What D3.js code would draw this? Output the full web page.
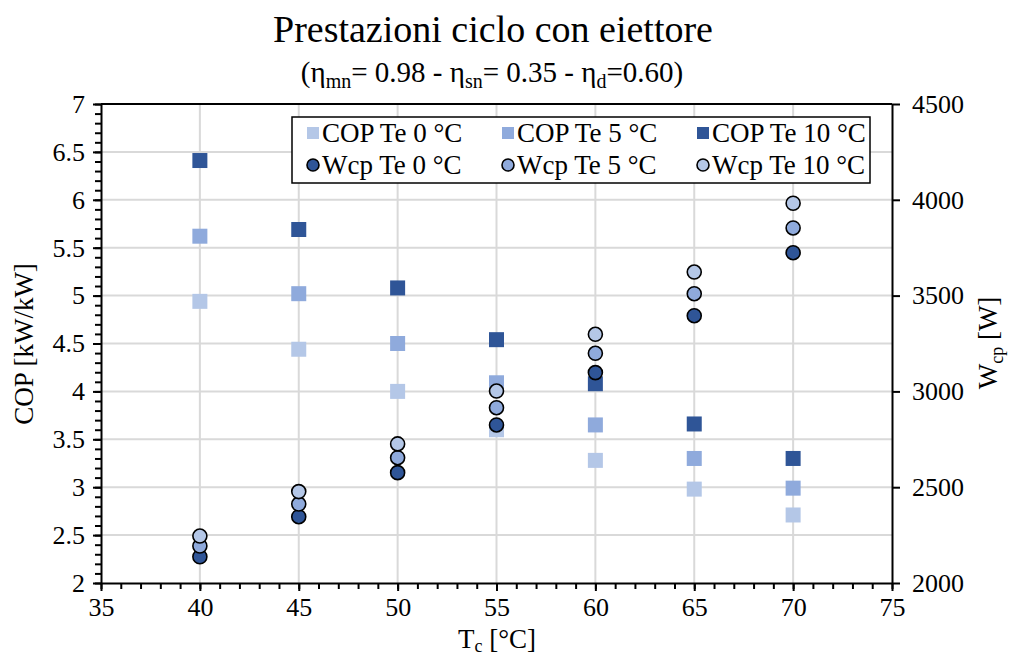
<!DOCTYPE html>
<html>
<head>
<meta charset="utf-8">
<script src="https://cdn.jsdelivr.net/npm/d3@7"></script>
<style>
  html, body { margin: 0; padding: 0; background: #fff; }
  svg { display: block; }
  text { font-family: "Liberation Serif", "Times New Roman", serif; fill: #000; }
</style>
</head>
<body>
<svg id="chart" width="1013" height="657"></svg>
<script>
// Condenser temperature Tc [°C]
const tc = [40, 45, 50, 55, 60, 65, 70];

// COP [kW/kW] for each evaporator temperature
const copTe0  = [4.94, 4.44, 4.00, 3.60, 3.28, 2.98, 2.71];
const copTe5  = [5.62, 5.02, 4.50, 4.09, 3.65, 3.30, 2.99];
const copTe10 = [6.41, 5.69, 5.08, 4.54, 4.08, 3.66, 3.30];

// Compressor power Wcp [W] for each evaporator temperature
const wcpTe0  = [2137, 2346, 2576, 2825, 3098, 3395, 3724];
const wcpTe5  = [2193, 2412, 2654, 2915, 3199, 3510, 3853];
const wcpTe10 = [2245, 2477, 2726, 3002, 3298, 3623, 3982];

// Tick labels
const xTicks = [35, 40, 45, 50, 55, 60, 65, 70, 75];
const yLeftTicks = [2, 2.5, 3, 3.5, 4, 4.5, 5, 5.5, 6, 6.5, 7];
const yRightTicks = [2000, 2500, 3000, 3500, 4000, 4500];

const cLight = "#B4C7E7", cMid = "#8FAADC", cDark = "#2F5597";

const series = [
  { name: "COP Te 0 °C",  kind: "sq", color: cLight, vals: copTe0 },
  { name: "COP Te 5 °C",  kind: "sq", color: cMid,   vals: copTe5 },
  { name: "COP Te 10 °C", kind: "sq", color: cDark,  vals: copTe10 },
  { name: "Wcp Te 0 °C",  kind: "ci", color: cDark,  vals: wcpTe0 },
  { name: "Wcp Te 5 °C",  kind: "ci", color: cMid,   vals: wcpTe5 },
  { name: "Wcp Te 10 °C", kind: "ci", color: cLight, vals: wcpTe10 }
];

const L = 101, R = 892, T = 104, B = 583;
const x = d3.scaleLinear().domain([35, 75]).range([L, R]);
const yL = d3.scaleLinear().domain([2, 7]).range([B, T]);
const yR = d3.scaleLinear().domain([2000, 4500]).range([B, T]);

const svg = d3.select("#chart");
const FONT = "'Liberation Serif', 'Times New Roman', serif";

// Gridlines
const grid = svg.append("g").attr("stroke", "#D9D9D9").attr("stroke-width", 2);
grid.selectAll("line.h").data(yLeftTicks.filter(v => v > 2 && v < 7)).join("line")
  .attr("x1", L).attr("x2", R).attr("y1", d => yL(d)).attr("y2", d => yL(d));
grid.selectAll("line.v").data(xTicks.filter(v => v > 35 && v < 75)).join("line")
  .attr("y1", T).attr("y2", B).attr("x1", d => x(d)).attr("x2", d => x(d));

// Top border of the plot area
svg.append("line").attr("x1", L).attr("x2", R).attr("y1", T).attr("y2", T)
  .attr("stroke", "#000").attr("stroke-width", 2);

function styleAxis(g) {
  g.attr("font-family", FONT);
  g.select(".domain").attr("stroke", "#000").attr("stroke-width", 2);
  g.selectAll(".tick line").attr("stroke", "#000").attr("stroke-width", 2);
  g.selectAll(".tick text").style("font-family", FONT).style("font-size", "26px");
}

// Minor ticks
svg.append("g").attr("transform", `translate(0,${B})`)
  .call(d3.axisBottom(x).tickValues(d3.range(35, 76, 1)).tickSize(6).tickFormat("").tickSizeOuter(0))
  .call(g => { g.select(".domain").remove(); g.selectAll(".tick line").attr("stroke", "#000").attr("stroke-width", 2); });
svg.append("g").attr("transform", `translate(${L},0)`)
  .call(d3.axisLeft(yL).tickValues(d3.range(20, 71, 1).map(v => v / 10)).tickSize(6).tickFormat("").tickSizeOuter(0))
  .call(g => { g.select(".domain").remove(); g.selectAll(".tick line").attr("stroke", "#000").attr("stroke-width", 2); });

// Major axes
svg.append("g").attr("transform", `translate(0,${B})`)
  .call(d3.axisBottom(x).tickValues(xTicks).tickSize(8).tickPadding(7).tickSizeOuter(0).tickFormat(d3.format("d")))
  .call(styleAxis);
svg.append("g").attr("transform", `translate(${L},0)`)
  .call(d3.axisLeft(yL).tickValues(yLeftTicks).tickSize(8).tickPadding(8).tickSizeOuter(0).tickFormat(d => String(d)))
  .call(styleAxis);
svg.append("g").attr("transform", `translate(${R},0)`)
  .call(d3.axisRight(yR).tickValues(yRightTicks).tickSize(8).tickPadding(12).tickSizeOuter(0).tickFormat(d3.format("d")))
  .call(styleAxis);

// Markers
const sq = 15, rad = 7;
series.forEach(s => {
  const g = svg.append("g");
  if (s.kind === "sq") {
    g.selectAll("rect").data(tc.map((t, i) => [t, s.vals[i]])).join("rect")
      .attr("x", d => x(d[0]) - sq / 2).attr("y", d => yL(d[1]) - sq / 2)
      .attr("width", sq).attr("height", sq).attr("fill", s.color);
  } else {
    g.selectAll("circle").data(tc.map((t, i) => [t, s.vals[i]])).join("circle")
      .attr("cx", d => x(d[0])).attr("cy", d => yR(d[1])).attr("r", rad)
      .attr("fill", s.color).attr("stroke", "#000").attr("stroke-width", 1.6);
  }
});

// Legend
const lg = svg.append("g");
lg.append("rect").attr("x", 292).attr("y", 117).attr("width", 578).attr("height", 66)
  .attr("fill", "#fff").attr("stroke", "#000").attr("stroke-width", 1.5);
const colX = [313, 508, 703], rowY = [133, 165];
series.forEach((s, i) => {
  const cx = colX[i % 3], cy = rowY[Math.floor(i / 3)];
  if (s.kind === "sq") {
    lg.append("rect").attr("x", cx - 6).attr("y", cy - 6).attr("width", 12).attr("height", 12).attr("fill", s.color);
  } else {
    lg.append("circle").attr("cx", cx).attr("cy", cy).attr("r", 6)
      .attr("fill", s.color).attr("stroke", "#000").attr("stroke-width", 1.6);
  }
  lg.append("text").attr("x", cx + 9).attr("y", cy + 9).style("font-size", "27px").text(s.name);
});

// Title and subtitle
svg.append("text").attr("x", 493).attr("y", 42).attr("text-anchor", "middle")
  .style("font-size", "38px").text("Prestazioni ciclo con eiettore");
const sub = svg.append("text").attr("x", 492).attr("y", 82).attr("text-anchor", "middle").style("font-size", "29px");
[["(η", 0], ["mn", 1], ["= 0.98 - η", 0], ["sn", 1], ["= 0.35 - η", 0], ["d", 1], ["=0.60)", 0]].reduce((prev, [t, s]) => {
  sub.append("tspan").attr("dy", s === prev ? 0 : (s ? 6 : -6))
    .style("font-size", s ? "20px" : "29px").text(t);
  return s;
}, 0);

// Axis titles
const xt = svg.append("text").attr("x", 497).attr("y", 648).attr("text-anchor", "middle").style("font-size", "27px");
xt.append("tspan").text("T");
xt.append("tspan").attr("dy", 4).style("font-size", "18px").text("c");
xt.append("tspan").attr("dy", -4).text(" [°C]");

svg.append("text").attr("transform", "translate(33,344) rotate(-90)").attr("text-anchor", "middle")
  .style("font-size", "27px").text("COP [kW/kW]");

const yt = svg.append("text").attr("transform", "translate(997,343) rotate(-90)").attr("text-anchor", "middle").style("font-size", "27px");
yt.append("tspan").text("W");
yt.append("tspan").attr("dy", 6).style("font-size", "18px").text("cp");
yt.append("tspan").attr("dy", -6).text(" [W]");
</script>
</body>
</html>
